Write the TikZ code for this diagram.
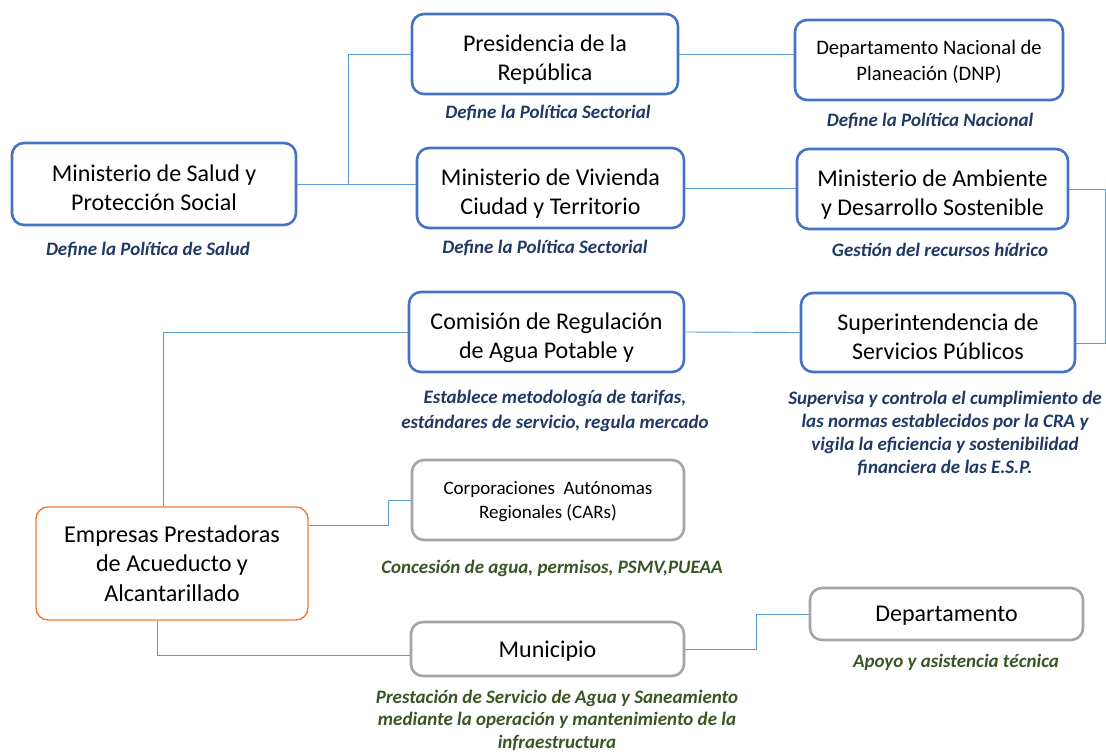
\documentclass[tikz,border=0pt]{standalone}
\usepackage{fontspec}
\setmainfont{Carlito}
\definecolor{boxblue}{HTML}{4472C4}
\definecolor{boxorange}{HTML}{ED7D31}
\definecolor{boxgray}{HTML}{A5A5A5}
\definecolor{connblue}{HTML}{5B9BD5}
\definecolor{navytxt}{HTML}{1F3864}
\definecolor{greentxt}{HTML}{375623}
\begin{document}
\begin{tikzpicture}[x=1pt,y=-1pt,
  basebox/.style={rounded corners=12pt, fill=white, align=center, inner sep=0pt, text=black},
  bluebox/.style={basebox, draw=boxblue, line width=2.6pt, text depth=0pt, font=\fontsize{24}{29}\selectfont},
  twoline/.style={text height=53pt},
  graybox/.style={basebox, draw=boxgray, line width=2.6pt, text depth=0pt, font=\fontsize{24}{29}\selectfont},
  orangebox/.style={basebox, draw=boxorange, line width=1.4pt, font=\fontsize{24.2}{29.5}\selectfont},
  smalltxt/.style={font=\fontsize{20.6}{26}\selectfont},
  navylab/.style={align=center, text=navytxt, inner sep=0pt, font=\fontsize{19}{23}\selectfont\bfseries\itshape},
  greenlab/.style={align=center, text=greentxt, inner sep=0pt, font=\fontsize{19}{22.5}\selectfont\bfseries\itshape},
  conn/.style={draw=connblue, line width=0.9pt}
]
\useasboundingbox (0,0) rectangle (1106,752);

% boxes
\node[bluebox, twoline, minimum width=284pt, minimum height=82pt] (salud) at (154,184) {Ministerio de Salud y\\Protección Social};
\node[bluebox, twoline, minimum width=266pt, minimum height=80pt] (pres) at (545,54) {Presidencia de la\\República};
\node[bluebox, smalltxt, minimum width=268pt, minimum height=80pt] (dnp) at (929,60) {Departamento Nacional de\\Planeación (DNP)};
\node[bluebox, twoline, minimum width=267pt, minimum height=80pt] (viv) at (550.5,188) {Ministerio de Vivienda\\Ciudad y Territorio};
\node[bluebox, twoline, minimum width=271pt, minimum height=80pt] (amb) at (932.5,189) {Ministerio de Ambiente\\y Desarrollo Sostenible};
\node[bluebox, twoline, minimum width=275pt, minimum height=80pt] (com) at (546.5,332) {Comisión de Regulación\\de Agua Potable y};
\node[bluebox, twoline, minimum width=274pt, minimum height=79pt] (sup) at (938,332.5) {Superintendencia de\\Servicios Públicos};
\node[orangebox, minimum width=272pt, minimum height=113pt] (emp) at (172,563.5) {Empresas Prestadoras\\de Acueducto y\\Alcantarillado};
\node[graybox, font=\fontsize{19}{24}\selectfont, minimum width=272pt, minimum height=80pt] (cars) at (548,500) {Corporaciones\ \ Autónomas\\Regionales (CARs)};
\node[graybox, minimum width=273pt, minimum height=54pt] (mun) at (547.5,649) {Municipio};
\node[graybox, minimum width=273pt, minimum height=52pt] (dep) at (946.5,614) {Departamento};

% labels
\node[navylab] (labsalud) at (148,250) {Define la Política de Salud};
\node[navylab] (labpres) at (548,113) {Define la Política Sectorial};
\node[navylab] (labdnp) at (930,121) {Define la Política Nacional};
\node[navylab] (labviv) at (545,248) {Define la Política Sectorial};
\node[navylab] (labamb) at (940,250) {Gestión del recursos hídrico};
\node[navylab, font=\fontsize{19}{25}\selectfont\bfseries\itshape] (labcom) at (555,410.5) {Establece metodología de tarifas,\\estándares de servicio, regula mercado};
\node[navylab] (labsup) at (945,433) {Supervisa y controla el cumplimiento de\\las normas establecidos por la CRA y\\vigila la eficiencia y sostenibilidad\\financiera de las E.S.P.};
\node[greenlab] (labcars) at (552,568) {Concesión de agua, permisos, PSMV,PUEAA};
\node[greenlab] (labmun) at (557,720) {Prestación de Servicio de Agua y Saneamiento\\mediante la operación y mantenimiento de la\\infraestructura};
\node[greenlab] (labdep) at (956,662) {Apoyo y asistencia técnica};

% connectors
\coordinate (j1) at (348,184);
\draw[conn] (salud.east) -- (j1) |- (pres.west);
\draw[conn] (j1) -- (viv.west |- j1);
\draw[conn] (pres.east) -- (dnp.west |- pres.east);
\draw[conn] (viv.east) -- (amb.west |- viv.east);
\draw[conn] (amb.east) -- ++(36,0) |- ([yshift=-10.5pt]sup.east);
\draw[conn] (com.east) -- (sup.west);
\draw[conn] (com.west) -| ([xshift=-9pt]emp.north);
\draw[conn] ([yshift=38pt]emp.east) -- ++(80,0) |- (cars.west);
\draw[conn] ([xshift=-15pt]emp.south) |- ([yshift=-6pt]mun.west);
\draw[conn] (mun.east) -- ++(71,0) |- (dep.west);
\end{tikzpicture}
\end{document}
